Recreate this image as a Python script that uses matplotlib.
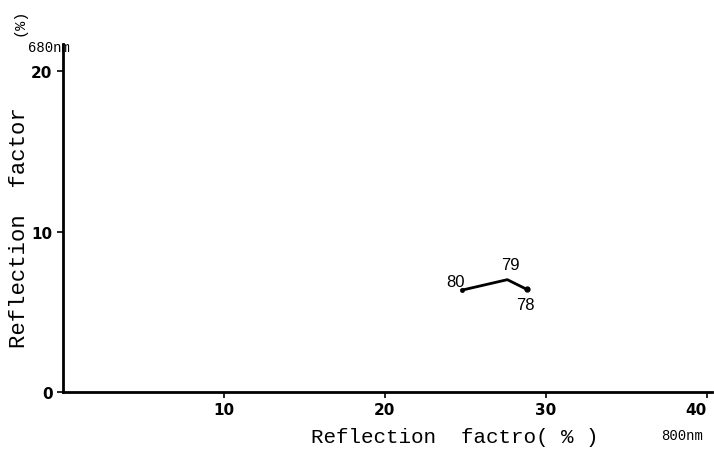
import matplotlib
matplotlib.use("Agg")
import matplotlib.pyplot as plt

# reflection at 800nm (x) vs 680nm (y), point labels
x_vals = [24.8, 27.6, 28.8]
y_vals = [6.35, 7.0, 6.4]
point_labels = ["80", "79", "78"]
x_ticks = [10, 20, 30, 40]
y_ticks = [0, 10, 20]

fig = plt.figure(figsize=(7.14, 4.52), dpi=100)
ax = fig.add_axes([0.088, 0.131, 0.909, 0.769])
ax.set_xlim(0, 40.3)
ax.set_ylim(0, 21.7)

ax.plot(x_vals, y_vals, color="black", lw=2)
ax.plot(x_vals[0], y_vals[0], "o", color="black", ms=2.5)
ax.plot(x_vals[-1], y_vals[-1], "o", color="black", ms=3.5)

offsets = [(-0.4, 0.55), (0.2, 0.97), (-0.1, -0.92)]
for xv, yv, lab, (dx, dy) in zip(x_vals, y_vals, point_labels, offsets):
    ax.text(xv + dx, yv + dy, lab, fontsize=12, ha="center", va="center",
            family="Liberation Sans")

for s in ["top", "right"]:
    ax.spines[s].set_visible(False)
ax.spines["left"].set_linewidth(2)
ax.spines["bottom"].set_linewidth(2)

ax.set_xticks(x_ticks)
ax.set_yticks(y_ticks)
ax.tick_params(direction="out", length=4, width=1.2, labelsize=11)
for t in ax.get_xticklabels() + ax.get_yticklabels():
    t.set_family("Liberation Sans Narrow")
    t.set_fontweight("bold")
# last x label sits on the right edge, as in the original
ax.get_xticklabels()[-1].set_horizontalalignment("right")

mono = "Liberation Mono"
fig.text(0.637, 0.032, "Reflection  factro( % )", fontsize=15, family=mono,
         ha="center", va="center")
fig.text(0.955, 0.035, "800nm", fontsize=10, family=mono, ha="center", va="center")
fig.text(0.027, 0.496, "Reflection  factor", fontsize=16, family=mono,
         rotation=90, ha="center", va="center")
fig.text(0.027, 0.95, "(%)", fontsize=11, family=mono,
         rotation=90, ha="center", va="center")
fig.text(0.068, 0.893, "680nm", fontsize=10, family=mono, ha="center", va="center")

fig.savefig("out.png", dpi=100)
